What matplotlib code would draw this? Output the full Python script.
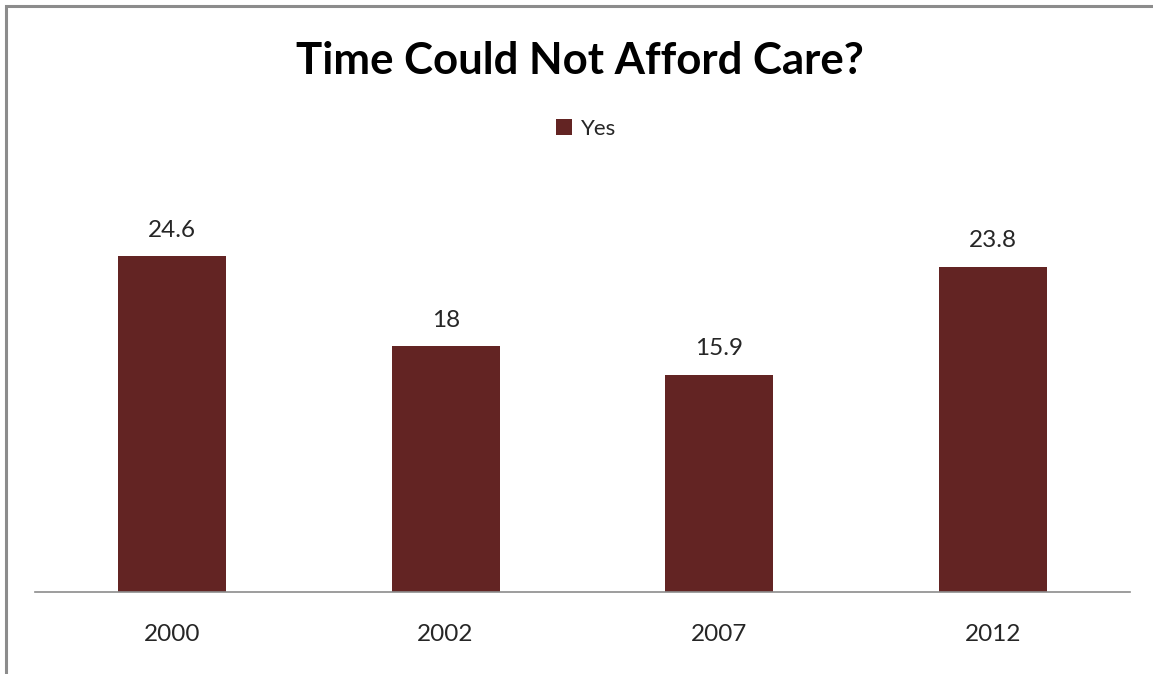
import matplotlib
matplotlib.use("Agg")
import matplotlib.pyplot as plt
from matplotlib.patches import Rectangle

years = ["2000", "2002", "2007", "2012"]
yes_values = [24.6, 18, 15.9, 23.8]
series_name = "Yes"
title = "Time Could Not Afford Care?"

bar_color = "#632423"
text_color = "#262626"

plt.rcParams["font.family"] = ["Lato", "DejaVu Sans"]

W, H = 1153, 674
fig = plt.figure(figsize=(W / 100, H / 100), dpi=100)
fig.patch.set_facecolor("white")

# chart frame
fig.add_artist(Rectangle((6 / W, -0.05), 1.2, 1 - 6 / H + 0.05,
                         transform=fig.transFigure, fill=False,
                         edgecolor="#8c8c8c", linewidth=2.2))

ax = fig.add_axes([35 / W, (H - 592) / H, (1130 - 35) / W, (592 - 182) / H])
x = range(len(years))
bars = ax.bar(x, yes_values, width=0.395, color=bar_color, label=series_name)
ax.set_xlim(-0.5, len(years) - 0.5)
ax.set_ylim(0, 30)

for spine in ["top", "right", "left"]:
    ax.spines[spine].set_visible(False)
ax.spines["bottom"].set_color("#8c8c8c")
ax.spines["bottom"].set_linewidth(1.2)
ax.set_yticks([])
ax.set_xticks(list(x))
ax.set_xticklabels(years, fontsize=17.5, color=text_color)
ax.tick_params(axis="x", length=0, pad=23)

for xi, v in zip(x, yes_values):
    ax.annotate(f"{v:g}", (xi, v), xytext=(0, 11), textcoords="offset points",
                ha="center", va="bottom", fontsize=17.5, color=text_color)

fig.text(580 / W, 1 - 61 / H, title, ha="center", va="center",
         fontsize=31.5, fontweight="bold", color="black")

leg = fig.legend(handles=[bars], labels=[series_name], loc="center",
                 bbox_to_anchor=(586 / W, 1 - 129 / H), frameon=False,
                 fontsize=16, handlelength=0.7, handleheight=0.7,
                 handletextpad=0.4, labelcolor=text_color)

fig.savefig("out.png", dpi=100, facecolor="white")
